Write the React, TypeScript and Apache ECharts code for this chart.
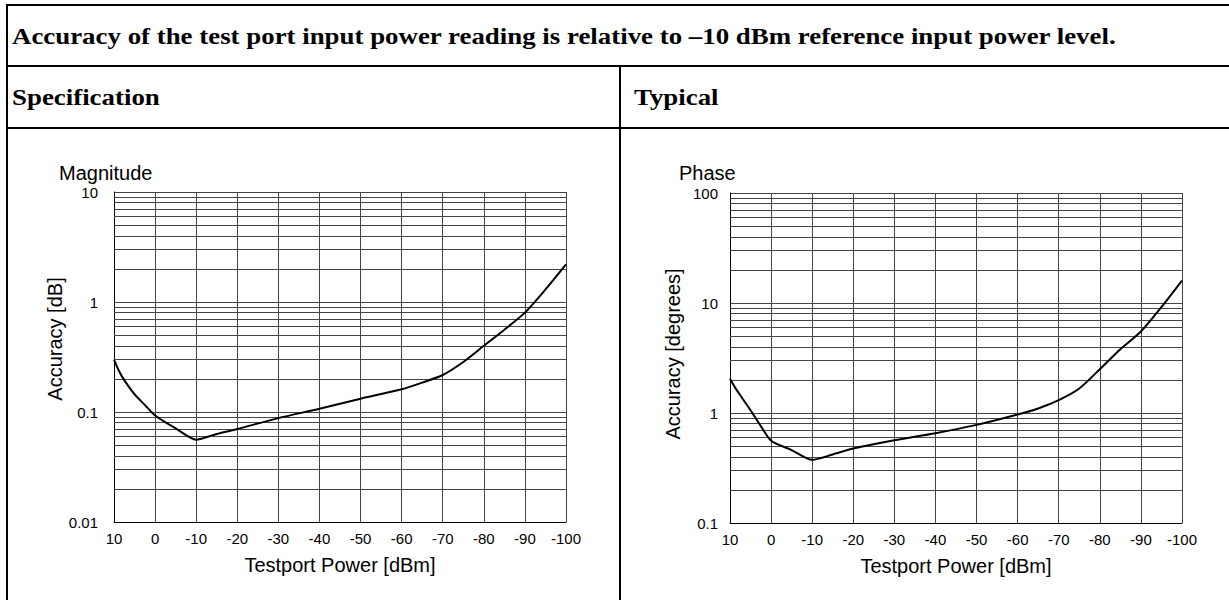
import React, { useEffect, useRef } from "react";
import * as echarts from "echarts";

const HEADER_TEXT = "Accuracy of the test port input power reading is relative to \u201310 dBm reference input power level.";
const COLUMN_HEADERS = ["Specification", "Typical"];
const CHART_TITLES = ["Magnitude", "Phase"];
const X_AXIS_NAME = "Testport Power [dBm]";
const Y_AXIS_NAMES = ["Accuracy [dB]", "Accuracy [degrees]"];

// Testport power (dBm)
const powerDbm = [10, 8.75, 7.5, 5, 2.5, 0, -5, -10, -15, -20, -30, -40, -50, -60, -65, -70, -75, -80, -85, -90, -95, -100];
// Magnitude accuracy (dB)
const magnitudeDb = [0.3, 0.235, 0.195, 0.145, 0.116, 0.093, 0.071, 0.056, 0.063, 0.07, 0.088, 0.107, 0.132, 0.161, 0.185, 0.217, 0.285, 0.4, 0.56, 0.8, 1.3, 2.2];
// Phase accuracy (degrees)
const phaseDeg = [2.05, 1.7, 1.45, 1.06, 0.76, 0.56, 0.46, 0.375, 0.42, 0.475, 0.565, 0.655, 0.78, 0.97, 1.1, 1.31, 1.67, 2.5, 3.8, 5.5, 9.2, 16];

// Axis ranges / ticks
const X_MIN = -100;
const X_MAX = 10;
const X_STEP = 10;
const magnitudeRange = [0.01, 10];
const phaseRange = [0.1, 100];
const magnitudeDecades = [0.01, 0.1, 1];
const phaseDecades = [0.1, 1, 10];
const minorMultipliers = [2, 3, 4, 5, 6, 7, 8, 9];

const SANS = "'Liberation Sans', Arial, sans-serif";
const SERIF = "'Liberation Serif', 'Times New Roman', serif";
const GRID_COLOR = "#444";

function minorValues(decades: number[]) {
  const out: number[] = [];
  decades.forEach((d) => minorMultipliers.forEach((m) => out.push(+(d * m).toPrecision(3))));
  return out;
}

export default function App() {
  const ref = useRef<HTMLDivElement>(null);

  useEffect(() => {
    if (!ref.current) return;
    const chart = echarts.init(ref.current, null, { renderer: "svg" });

    const grids = [
      { left: 114, top: 192, width: 452, height: 330 },
      { left: 730, top: 193, width: 452, height: 330 },
    ];

    const xAxis = [0, 1].map((i) => ({
      type: "value",
      gridIndex: i,
      min: X_MIN,
      max: X_MAX,
      interval: X_STEP,
      inverse: true,
      name: X_AXIS_NAME,
      nameLocation: "middle",
      nameGap: 33,
      nameTextStyle: { fontFamily: SANS, fontSize: 20, color: "#000" },
      axisLine: { show: true, onZero: false, lineStyle: { color: "#000", width: 1 } },
      axisTick: { show: false },
      axisLabel: { fontFamily: SANS, fontSize: 15, color: "#000", margin: 9 },
      splitLine: { show: true, lineStyle: { color: GRID_COLOR, width: 1 } },
    }));

    const ranges = [magnitudeRange, phaseRange];
    const yAxis = [0, 1].map((i) => ({
      type: "log",
      logBase: 10,
      gridIndex: i,
      min: ranges[i][0],
      max: ranges[i][1],
      name: Y_AXIS_NAMES[i],
      nameLocation: "middle",
      nameGap: 47,
      nameTextStyle: {
        fontFamily: SANS,
        fontSize: 20,
        color: "#000",
        padding: i === 0 ? [0, 0, 0, 36] : [0, 0, 0, 8],
      },
      axisLine: { show: true, onZero: false, lineStyle: { color: "#000", width: 1 } },
      axisTick: { show: false },
      axisLabel: {
        fontFamily: SANS,
        fontSize: 15,
        color: "#000",
        margin: i === 0 ? 16 : 12,
        formatter: (v: number) => String(+(+v).toPrecision(3)),
      },
      splitLine: { show: true, lineStyle: { color: GRID_COLOR, width: 1 } },
      minorSplitLine: { show: false },
    }));

    const values = [magnitudeDb, phaseDeg];
    const decades = [magnitudeDecades, phaseDecades];
    const series = [0, 1].map((i) => ({
      type: "line",
      xAxisIndex: i,
      yAxisIndex: i,
      data: powerDbm.map((p, k) => [p, values[i][k]]),
      showSymbol: false,
      smooth: 0.25,
      lineStyle: { color: "#000", width: 2 },
      z: 5,
      markLine: {
        silent: true,
        symbol: ["none", "none"],
        label: { show: false },
        emphasis: { disabled: true },
        lineStyle: { color: GRID_COLOR, width: 1, type: "solid" },
        data: minorValues(decades[i]).map((v) => ({ yAxis: v })),
      },
    }));

    const line = (x: number, y: number, w: number, h: number) => ({
      type: "rect",
      shape: { x, y, width: w, height: h },
      style: { fill: "#000" },
      silent: true,
    });

    const headerFont = `bold 24px ${SERIF}`;
    const headerScaleX = 1.12;
    const headerText = (text: string, x: number, y: number) => ({
      type: "text",
      x,
      y,
      scaleX: headerScaleX,
      style: { text, font: headerFont, fill: "#000", align: "left", verticalAlign: "middle" },
    });

    const graphic = [
      line(6, 4, 1223, 2),
      line(6, 4, 2, 596),
      line(6, 65, 1223, 2),
      line(6, 127, 1223, 2),
      line(619, 65, 2, 535),
      headerText(HEADER_TEXT, 12, 36),
      headerText(COLUMN_HEADERS[0], 12, 97),
      headerText(COLUMN_HEADERS[1], 634, 97),
    ];

    chart.setOption({
      animation: false,
      backgroundColor: "#fff",
      title: [
        { text: CHART_TITLES[0], left: 59, top: 163, padding: 0, textStyle: { fontFamily: SANS, fontSize: 20, fontWeight: "normal", color: "#000" } },
        { text: CHART_TITLES[1], left: 679, top: 163, padding: 0, textStyle: { fontFamily: SANS, fontSize: 20, fontWeight: "normal", color: "#000" } },
      ],
      grid: grids,
      xAxis,
      yAxis,
      series,
      graphic,
    });

    return () => chart.dispose();
  }, []);

  return (
    <div
      ref={ref}
      style={{ position: "absolute", left: 0, top: 0, width: 1229, height: 600, background: "#fff" }}
    />
  );
}
